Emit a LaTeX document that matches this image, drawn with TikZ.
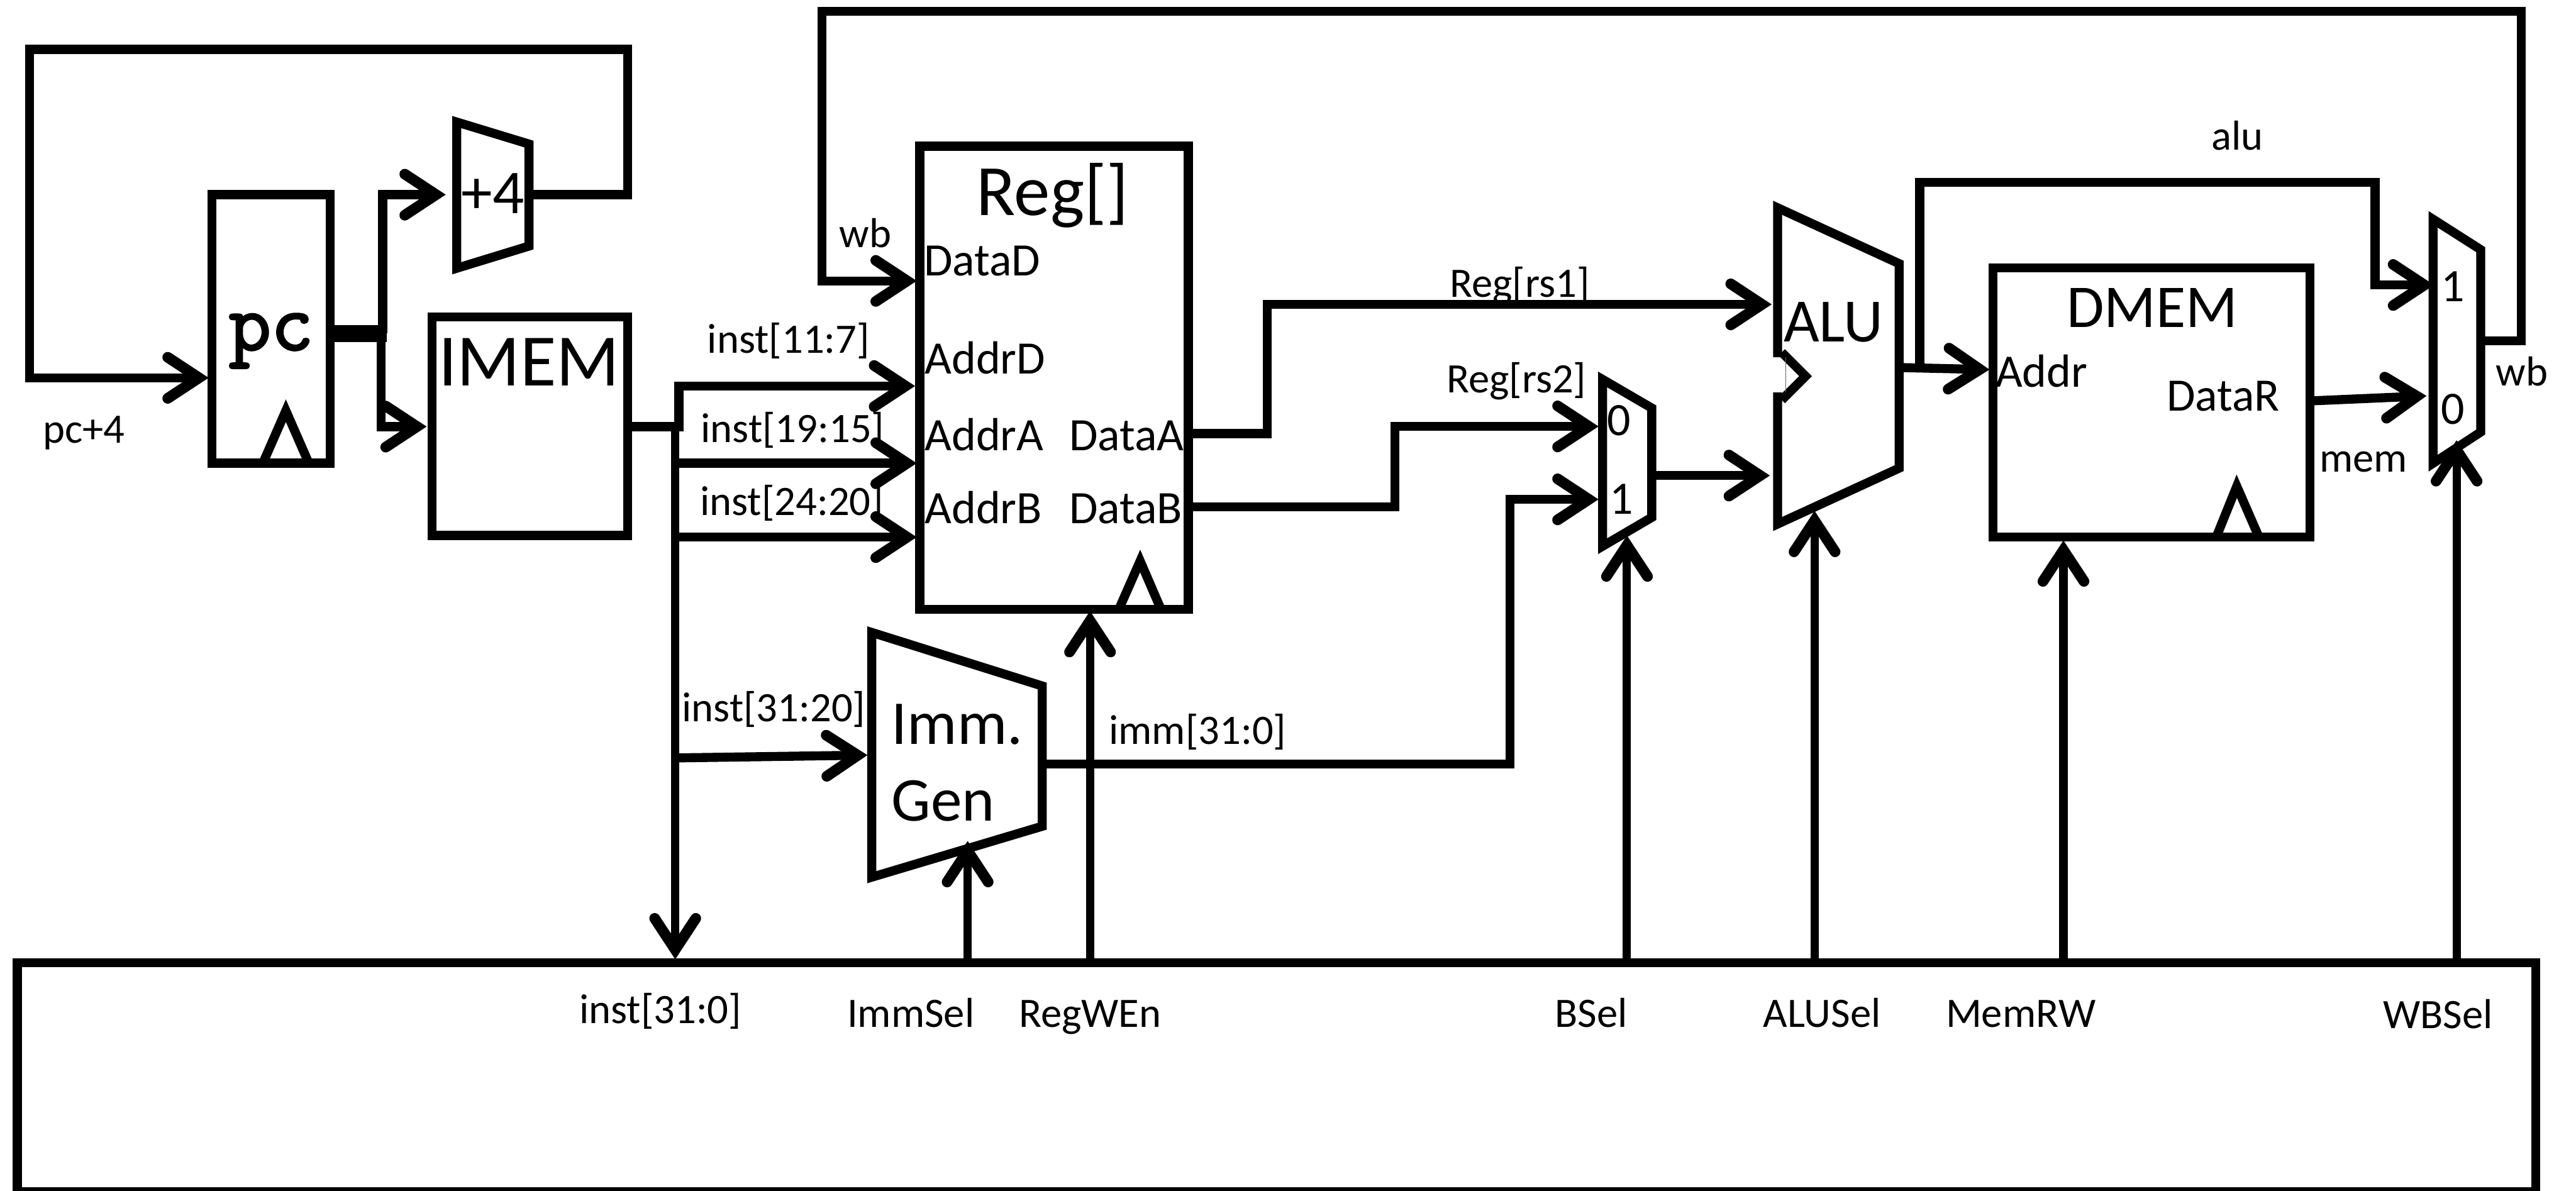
\documentclass[tikz,border=0pt]{standalone}
\usepackage{fontspec}
\setmainfont{Carlito}
\newfontfamily\pcfont{Latin Modern Mono}[RawFeature={embolden=2.5}]
\usetikzlibrary{arrows.meta}
\newcommand{\fs}[1]{\fontsize{#1}{#1}\selectfont}
\tikzset{
  wire/.style={line width=5.5pt,line cap=butt,line join=miter,miter limit=10},
  conn/.style={wire,-{Straight Barb[length=19pt,width=25pt,line width=6.5pt,line cap=round,line join=miter]}},
  thinconn/.style={conn,line width=5pt},
  blockbox/.style={draw,line width=5.5pt,inner sep=0pt,outer sep=0pt,anchor=north west,miter limit=10},
  outline/.style={wire},
  lbl/.style={inner sep=0pt,outer sep=0pt,anchor=base,font=\fs{25.5}},
  lblw/.style={inner sep=0pt,outer sep=0pt,anchor=base west,font=\fs{28.3}},
  lblc/.style={inner sep=0pt,outer sep=0pt,anchor=base,font=\fs{28.3}},
}
\begin{document}
\begin{tikzpicture}[x=1pt,y=-1pt]
\useasboundingbox (0,0) rectangle (1568,724.85);
% ---- blocks
\node[blockbox,minimum width=72pt,minimum height=163.5pt] (pc) at (129,118.5) {};
\node[blockbox,minimum width=119pt,minimum height=133pt] (imem) at (263,193) {};
\node[blockbox,minimum width=163.5pt,minimum height=282pt] (reg) at (559.8,89) {};
\node[blockbox,minimum width=193pt,minimum height=164pt] (dmem) at (1213,163) {};
\node[blockbox,minimum width=1533pt,minimum height=139.5pt] (ctrl) at (10.5,586) {};
% clock triangles
\draw[outline] (160,282) -- (174,250) -- (188,282);
\draw[outline] (681,371) -- (694,341.5) -- (706.7,371);
\draw[outline] (1349,327) -- (1361.5,296) -- (1375,327);
% +4 adder
\draw[outline] (278,74.3) -- (322,87.7) -- (322,149.8) -- (278,163.3) -- cycle;
% Imm. Gen
\draw[outline] (530.6,385) -- (634.4,417.6) -- (634.4,503) -- (530.6,534) -- cycle;
% BSel mux
\draw[outline] (975.5,231) -- (1005.4,248.4) -- (1005.4,315) -- (975.5,332.5) -- cycle;
% WBSel mux
\draw[outline] (1481,133.5) -- (1510,152) -- (1510,263) -- (1481,282) -- cycle;
% ALU
\draw[outline] (1082,217.5) -- (1082,126.5) -- (1156,160.5) -- (1156,285) -- (1082,319) -- (1082,238.9);
\draw[outline] (1084.5,214.5) -- (1099,229) -- (1084.5,243.5);
\draw[black!60,line width=.4pt] (1087,217.5) -- (1087,239);
% ---- named ports and corners
\coordinate (pcin) at (127,230);
\coordinate (pcout) at (201,203);
\coordinate (pcj) at (235.5,203);
\coordinate (addin) at (271.3,118.5);
\coordinate (addout) at (322,118.5);
\coordinate (imemin) at (259.7,259.7);
\coordinate (imemout) at (382,259.8);
\coordinate (regwb) at (558,171);
\coordinate (regd) at (557,235);
\coordinate (rega) at (558,282);
\coordinate (regb) at (558,327);
\coordinate (dataA) at (723,264);
\coordinate (dataB) at (723,308.5);
\coordinate (trunkbot) at (411,584);
\coordinate (immin) at (528,459.7);
\coordinate (immout) at (634.4,465);
\coordinate (bmux0) at (973,259.6);
\coordinate (bmux1) at (973,304);
\coordinate (bmuxout) at (1005.4,289.5);
\coordinate (aluA) at (1078.4,185.3);
\coordinate (aluB) at (1077.3,289.5);
\coordinate (aluout) at (1158.7,223.8);
\coordinate (dmaddr) at (1211,225);
\coordinate (dmout) at (1407.8,244);
\coordinate (wb0) at (1477,241);
\coordinate (wb1) at (1481.6,173.5);
\coordinate (wbout) at (1510,207.4);
% ---- connectors
\draw[conn] (addout) -- (382,118.5) -- (382,30) -- (18,30) -- (18,230) -- (pcin);
\draw[wire,line width=10.5pt] (pcout) -- (pcj);
\draw[conn] (233,203) -- (233,118.5) -- (addin);
\draw[conn] (232,203) -- (232,259.7) -- (imemin);
\draw[wire] (imemout) -- (416,259.8);
\draw[conn] (413.3,262.5) -- (413.3,235) -- (regd);
\draw[thinconn] (411,259.8) -- (trunkbot);
\draw[conn] (411,282) -- (rega);
\draw[conn] (411,327) -- (regb);
\draw[conn] (411,461.4) -- (immin);
\draw[conn] (wbout) -- (1534.6,207.4) -- (1534.6,7) -- (500.3,7) -- (500.3,171) -- (regwb);
\draw[conn] (dataA) -- (771.3,264) -- (771.3,185.3) -- (aluA);
\draw[conn] (dataB) -- (849,308.5) -- (849,259.6) -- (bmux0);
\draw[conn] (immout) -- (919,465) -- (919,304) -- (bmux1);
\draw[conn] (bmuxout) -- (aluB);
\draw[conn] (aluout) -- (dmaddr);
\draw[conn] (1168.5,226) -- (1168.5,111) -- (1445.7,111) -- (1445.7,173.5) -- (wb1);
\draw[conn] (dmout) -- (wb0);
\draw[thinconn] (589,586) -- (589,512);
\draw[thinconn] (663.5,586) -- (663.5,372);
\draw[thinconn] (990.3,586) -- (990.3,326);
\draw[thinconn] (1104.5,586) -- (1104.5,311);
\draw[thinconn] (1256,586) -- (1256,329);
\draw[thinconn] (1495.3,586) -- (1495.3,268);
% ---- text
\node[font=\pcfont\fs{50},inner sep=0pt,anchor=base] (tpc) at (165,213) {pc};
\node[font=\fs{45},inner sep=0pt,anchor=base] (timem) at (322,235) {IMEM};
\node[font=\fs{44},inner sep=0pt,anchor=base] (treg) at (640.6,131.3) {Reg[]};
\node[font=\fs{38},inner sep=0pt,anchor=base] (tadd) at (300,130) {+4};
\node[font=\fs{37},inner sep=0pt,anchor=base] (tdmem) at (1310,199.4) {DMEM};
\node[font=\fs{37.5},inner sep=0pt,anchor=base] (talu) at (1116,208) {ALU};
\node[font=\fs{38},inner sep=0pt,anchor=base west] (timm) at (542.5,453) {Imm.};
\node[font=\fs{38},inner sep=0pt,anchor=base west] (tgen) at (542.5,499.9) {Gen};
\node[lblw] (tdd) at (562.4,168) {DataD};
\node[lblw] (tad) at (562.9,227.6) {AddrD};
\node[lblw] (taa) at (562.9,274.2) {AddrA};
\node[lblw] (tab) at (562.9,318.6) {AddrB};
\node[lblw] (tda) at (650.8,274.2) {DataA};
\node[lblw] (tdb) at (650.8,318.6) {DataB};
\node[lblw] (taddr) at (1214.7,235.7) {Addr};
\node[lblw] (tdr) at (1318.8,250.3) {DataR};
\node[lblc] (tm1) at (1493,183.4) {1};
\node[lblc] (tm0) at (1493,258.3) {0};
\node[lblc] (tb0) at (985.4,265) {0};
\node[lblc] (tb1) at (987,313) {1};
\node[lbl] (l1) at (51,269.6) {pc+4};
\node[lbl] (l2) at (526.7,150.6) {wb};
\node[lbl] (l3) at (480,215) {inst[11:7]};
\node[lbl] (l4) at (482.5,269.3) {inst[19:15]};
\node[lbl] (l5) at (482,313.7) {inst[24:20]};
\node[lbl] (l6) at (471,439.3) {inst[31:20]};
\node[lbl] (l7) at (729,453) {imm[31:0]};
\node[lbl] (l8) at (925,180.7) {Reg[rs1]};
\node[lbl] (l9) at (923,238.9) {Reg[rs2]};
\node[lbl] (l10) at (1362,91.2) {alu};
\node[lbl] (l11) at (1535,234.8) {wb};
\node[lbl] (l12) at (1438.6,287.3) {mem};
\node[lbl] (l13) at (402,623) {inst[31:0]};
\node[lbl] (l14) at (554.4,625.5) {ImmSel};
\node[lbl] (l15) at (663.5,625.5) {RegWEn};
\node[lbl] (l16) at (968.6,625.5) {BSel};
\node[lbl] (l17) at (1109,625.5) {ALUSel};
\node[lbl] (l18) at (1230,625.5) {MemRW};
\node[lbl] (l19) at (1484,626) {WBSel};
\end{tikzpicture}
\end{document}
